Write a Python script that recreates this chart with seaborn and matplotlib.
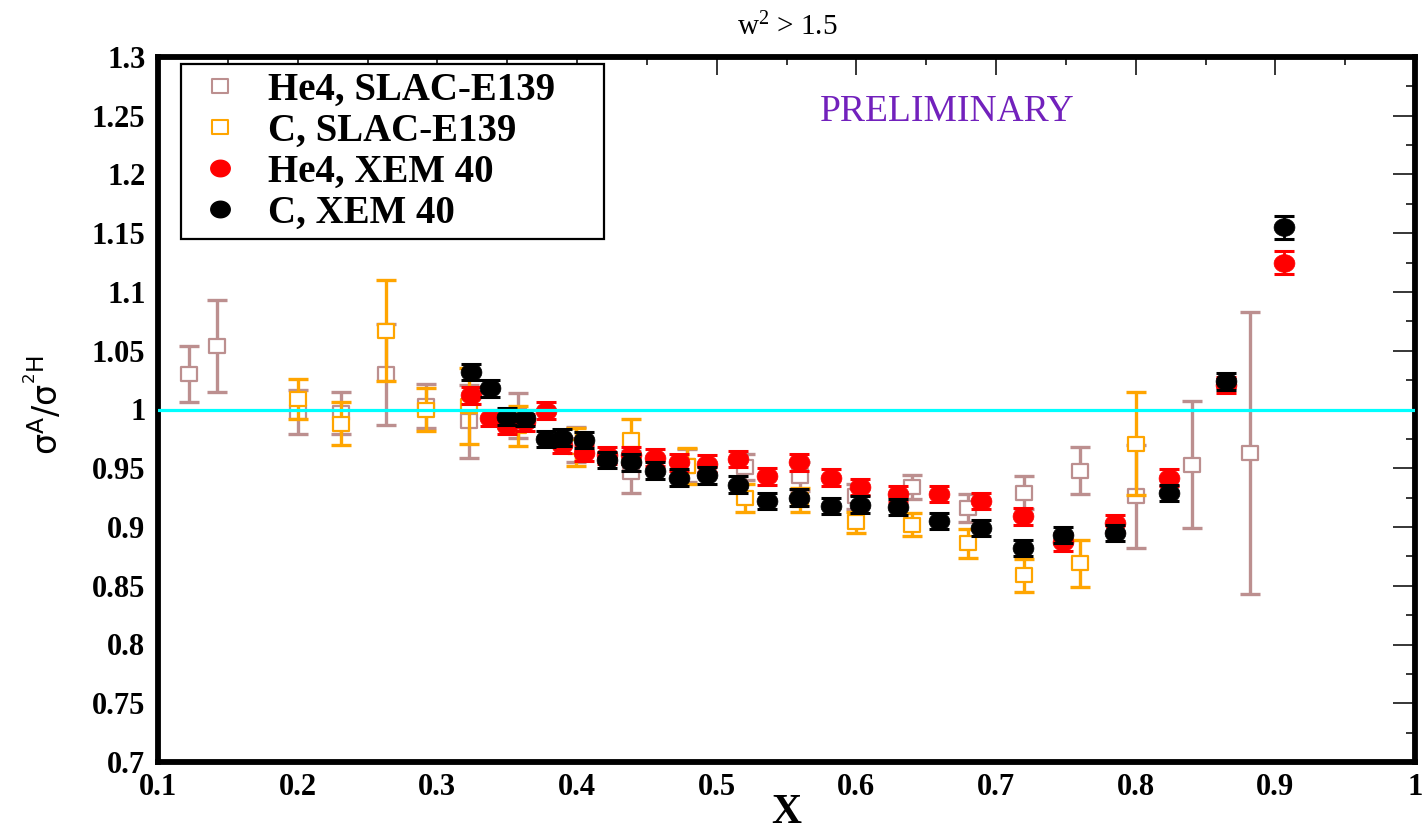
import numpy as np
import pandas as pd
import matplotlib
matplotlib.use("Agg")
import matplotlib.pyplot as plt
import seaborn as sns
from matplotlib.path import Path
from matplotlib.markers import MarkerStyle
from matplotlib.lines import Line2D
from matplotlib.ticker import MultipleLocator, FuncFormatter

# ---------------- data ----------------
he4_slac_x = [0.122, 0.142, 0.200, 0.231, 0.263, 0.292, 0.323, 0.358, 0.399, 0.439, 0.479,
              0.520, 0.560, 0.600, 0.640, 0.680, 0.720, 0.760, 0.800, 0.840, 0.882]
he4_slac_y = [1.030, 1.054, 0.998, 0.997, 1.030, 1.003, 0.990, 0.995, 0.970, 0.947, 0.952,
              0.951, 0.943, 0.926, 0.934, 0.916, 0.929, 0.948, 0.926, 0.953, 0.963]
he4_slac_err = [0.024, 0.039, 0.019, 0.018, 0.043, 0.019, 0.031, 0.019, 0.015, 0.018, 0.014,
                0.011, 0.012, 0.011, 0.010, 0.012, 0.014, 0.020, 0.044, 0.054, 0.120]

c_slac_x = [0.200, 0.231, 0.263, 0.292, 0.323, 0.358, 0.399, 0.439, 0.479, 0.520, 0.560,
            0.600, 0.640, 0.680, 0.720, 0.760, 0.800]
c_slac_y = [1.009, 0.988, 1.067, 1.000, 1.003, 0.986, 0.968, 0.974, 0.952, 0.925, 0.923,
            0.904, 0.902, 0.886, 0.859, 0.869, 0.971]
c_slac_err = [0.017, 0.018, 0.043, 0.018, 0.032, 0.017, 0.016, 0.018, 0.015, 0.012, 0.010,
              0.009, 0.010, 0.012, 0.014, 0.020, 0.044]

xem_x = [0.324, 0.3375, 0.350, 0.363, 0.378, 0.389, 0.405, 0.4215, 0.439, 0.456, 0.473, 0.493,
         0.515, 0.536, 0.559, 0.582, 0.6025, 0.630, 0.659, 0.689, 0.719, 0.748, 0.785, 0.824,
         0.8645, 0.906]
he4_xem_y = [1.012, 0.993, 0.986, 0.989, 0.999, 0.970, 0.963, 0.961, 0.961, 0.959, 0.955, 0.954,
             0.958, 0.943, 0.955, 0.942, 0.934, 0.928, 0.928, 0.922, 0.909, 0.887, 0.903, 0.942,
             1.021, 1.125]
c_xem_y = [1.032, 1.018, 0.994, 0.993, 0.975, 0.976, 0.974, 0.957, 0.955, 0.948, 0.942, 0.944,
           0.936, 0.922, 0.925, 0.918, 0.919, 0.917, 0.905, 0.899, 0.882, 0.893, 0.895, 0.929,
           1.024, 1.155]
he4_xem_err = [0.007] * 25 + [0.010]
c_xem_err = [0.007] * 25 + [0.010]

labels = ["He4, SLAC-E139", "C, SLAC-E139", "He4, XEM 40", "C, XEM 40"]
title_text = r"w$\mathregular{^{2}}$ > 1.5"
prelim_text = "PRELIMINARY"

# ---------------- style ----------------
sns.set_style("white")
plt.rcParams["font.family"] = ["Liberation Serif", "DejaVu Serif"]
plt.rcParams["mathtext.fontset"] = "dejavusans"
plt.rcParams["text.color"] = "black"
plt.rcParams["axes.labelcolor"] = "black"

BROWN = "#bc8f8f"
ORANGE = "#ffa500"
RED = "#ff0000"
BLACK = "#000000"
CYAN = "#00ffff"
INDIGO = "#7221bc"

# marker shapes (slightly wider than tall, like the original)
sq_path = Path([(-1, -0.8), (1, -0.8), (1, 0.8), (-1, 0.8), (-1, -0.8)],
               [Path.MOVETO, Path.LINETO, Path.LINETO, Path.LINETO, Path.CLOSEPOLY])
t = np.linspace(0, 2 * np.pi, 60)
ell_verts = np.column_stack([np.cos(t), 0.85 * np.sin(t)])
ell_path = Path(ell_verts, closed=True)
SQ = MarkerStyle(sq_path)
EL = MarkerStyle(ell_path)

fig = plt.figure(figsize=(14.24, 8.34), dpi=100)
ax = fig.add_axes([158 / 1424, 1 - 762 / 834, (1415 - 158) / 1424, (762 - 57) / 834])

df_hs = pd.DataFrame({"x": he4_slac_x, "y": he4_slac_y, "e": he4_slac_err})
df_cs = pd.DataFrame({"x": c_slac_x, "y": c_slac_y, "e": c_slac_err})
df_hx = pd.DataFrame({"x": xem_x, "y": he4_xem_y, "e": he4_xem_err})
df_cx = pd.DataFrame({"x": xem_x, "y": c_xem_y, "e": c_xem_err})

# SLAC He4
ax.errorbar(df_hs["x"], df_hs["y"], yerr=df_hs["e"], fmt="none", ecolor=BROWN,
            elinewidth=2.4, capsize=7, capthick=2.4, zorder=2)
sns.scatterplot(data=df_hs, x="x", y="y", ax=ax, marker=SQ, s=145, color="white",
                edgecolor=BROWN, linewidth=1.6, zorder=2.1, legend=False)
# SLAC C
ax.errorbar(df_cs["x"], df_cs["y"], yerr=df_cs["e"], fmt="none", ecolor=ORANGE,
            elinewidth=2.4, capsize=7, capthick=2.4, zorder=3)
sns.scatterplot(data=df_cs, x="x", y="y", ax=ax, marker=SQ, s=145, color="white",
                edgecolor=ORANGE, linewidth=1.6, zorder=3.1, legend=False)
# XEM He4
ax.errorbar(df_hx["x"], df_hx["y"], yerr=df_hx["e"], fmt="none", ecolor=RED,
            elinewidth=2.0, capsize=7, capthick=2.2, zorder=4)
sns.scatterplot(data=df_hx, x="x", y="y", ax=ax, marker=EL, s=225, color=RED,
                edgecolor=RED, linewidth=0.5, zorder=4.1, legend=False)
# XEM C
ax.errorbar(df_cx["x"], df_cx["y"], yerr=df_cx["e"], fmt="none", ecolor=BLACK,
            elinewidth=2.0, capsize=7, capthick=2.2, zorder=5)
sns.scatterplot(data=df_cx, x="x", y="y", ax=ax, marker=EL, s=225, color=BLACK,
                edgecolor=BLACK, linewidth=0.5, zorder=5.1, legend=False)

ax.axhline(1.0, color=CYAN, lw=2.3, zorder=10)

# axes
ax.set_xlim(0.1, 1.0)
ax.set_ylim(0.7, 1.3)
ax.xaxis.set_major_locator(MultipleLocator(0.1))
ax.xaxis.set_minor_locator(MultipleLocator(0.05))
ax.yaxis.set_major_locator(MultipleLocator(0.05))
ax.yaxis.set_minor_locator(MultipleLocator(0.025))
fmt = FuncFormatter(lambda v, p: f"{round(v, 3):g}")
ax.xaxis.set_major_formatter(fmt)
ax.yaxis.set_major_formatter(fmt)

for sp in ax.spines.values():
    sp.set_linewidth(4.2)
    sp.set_color("black")
    sp.set_visible(True)

ax.tick_params(which="both", direction="in", top=True, right=True, colors="black",
               width=1.1)
ax.tick_params(axis="x", which="major", length=13, pad=8)
ax.tick_params(axis="x", which="minor", length=6)
ax.tick_params(axis="y", which="major", length=16, pad=9)
ax.tick_params(axis="y", which="minor", length=6.5)
for lab in ax.get_xticklabels() + ax.get_yticklabels():
    lab.set_fontfamily("Liberation Serif")
    lab.set_fontweight("bold")
    lab.set_fontsize(22)

ax.set_xlabel("X", fontsize=30, fontweight="bold", family="Liberation Serif")
ax.xaxis.set_label_coords(0.5, -0.046)
ax.set_ylabel(r"$\mathregular{\sigma^{A}/\sigma^{^{2}H}}$", fontsize=24,
              family=["DejaVu Sans"])
ax.yaxis.set_label_coords(-0.074, 0.506)

ax.text(0.665, 1.253, prelim_text, color=INDIGO, fontsize=27, ha="center", va="center",
        family="Liberation Serif", zorder=11)
fig.text(787 / 1424, 1 - 27 / 834, title_text, ha="center", va="center", fontsize=21,
         family="Liberation Serif")

# legend
handles = [
    Line2D([], [], ls="none", marker=SQ, markersize=12, markerfacecolor="white",
           markeredgecolor=BROWN, markeredgewidth=1.5),
    Line2D([], [], ls="none", marker=SQ, markersize=12, markerfacecolor="white",
           markeredgecolor=ORANGE, markeredgewidth=1.5),
    Line2D([], [], ls="none", marker=EL, markersize=14, markerfacecolor=RED,
           markeredgecolor=RED),
    Line2D([], [], ls="none", marker=EL, markersize=14, markerfacecolor=BLACK,
           markeredgecolor=BLACK),
]
leg = ax.legend(handles, labels, loc="upper left",
                bbox_to_anchor=(0.0183, 0.5, 0.3365, 0.49), mode="expand",
                borderaxespad=0, borderpad=0.2, handlelength=1.6, handletextpad=0.44,
                labelspacing=0.1, frameon=True, fancybox=False, framealpha=1,
                prop={"family": "Liberation Serif", "weight": "bold", "size": 28})
leg.get_frame().set_edgecolor("black")
leg.get_frame().set_linewidth(1.6)
leg.set_zorder(20)
for txt in leg.get_texts():
    txt.set_color("black")

fig.savefig("out.png", dpi=100)
